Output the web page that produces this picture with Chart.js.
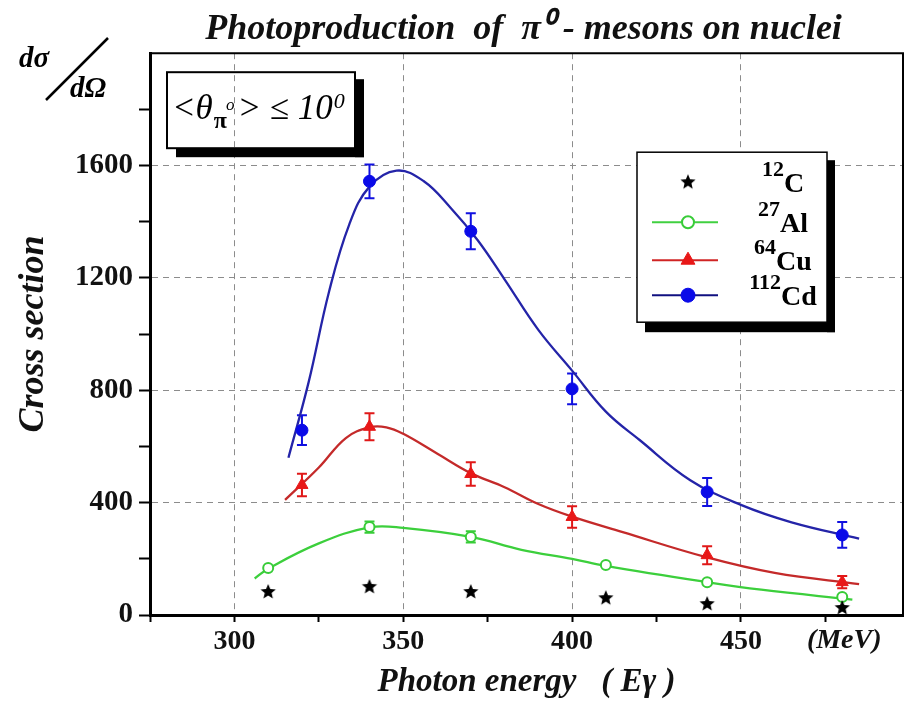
<!DOCTYPE html>
<html>
<head>
<meta charset="utf-8">
<title>Photoproduction of π0-mesons on nuclei</title>
<script src="https://cdn.jsdelivr.net/npm/chart.js@4.4.1/dist/chart.umd.min.js"></script>
<style>
    html, body { margin: 0; padding: 0; background: #fff; }
    #pion { display: block; }
</style>
</head>
<body>
<canvas id="pion" width="905" height="703"></canvas>
<script>
const SERIF = "'Liberation Serif', 'Times New Roman', serif";

// measured points: photon energy (MeV) and cross section
const cEnergy = [310, 340, 370, 410, 440, 480];
const cSigma  = [82, 100, 82, 60, 39, 25];

const alEnergy = [310, 340, 370, 410, 440, 480];
const alSigma  = [167, 313, 278, 178, 117, 64];
const alError  = [0, 20, 20, 0, 0, 0];

const cuEnergy = [320, 340, 370, 400, 440, 480];
const cuSigma  = [463, 670, 502, 349, 213, 117];
const cuError  = [40, 48, 42, 38, 32, 22];

const cdEnergy = [320, 340, 370, 400, 440, 480];
const cdSigma  = [658, 1544, 1366, 805, 438, 285];
const cdError  = [53, 60, 64, 55, 50, 46];

// smooth fitted curves
const alFitEnergy = [306, 310, 325, 340, 350, 370, 385, 400, 410, 440, 456, 483];
const alFitSigma  = [130, 165, 255, 312, 310, 278, 232, 200, 175, 117, 90, 55];

const cuFitEnergy = [315, 325, 333, 340, 345, 350, 360, 370, 380, 390, 400, 415, 440, 460, 485];
const cuFitSigma  = [410, 525, 630, 668, 668, 645, 575, 505, 455, 395, 350, 295, 205, 150, 110];

const cdFitEnergy = [316, 322, 328, 334, 340, 348, 356, 364, 372, 380, 390, 400, 410, 420, 435, 450, 465, 485];
const cdFitSigma  = [560, 830, 1150, 1390, 1525, 1582, 1545, 1450, 1335, 1195, 1015, 870, 724, 623, 480, 392, 330, 272];

// axes
const energyTicks  = [275, 300, 325, 350, 375, 400, 425, 450, 475];
const energyLabels = [300, 350, 400, 450];
const unitTick     = 480;   // "(MeV)" is written under this energy
const sigmaTicks   = [0, 200, 400, 600, 800, 1000, 1200, 1400, 1600, 1800];
const sigmaLabels  = [0, 400, 800, 1200, 1600];

// legend text
const nucleusMass   = ['12', '27', '64', '112'];
const nucleusSymbol = ['C', 'Al', 'Cu', 'Cd'];

window.onload = function() {
    crossSection();
};

function starImage(r) {
    const c = document.createElement('canvas');
    c.width = c.height = 2 * r + 2;
    const g = c.getContext('2d');
    g.translate(r + 1, r + 1);
    g.beginPath();
    for (let i = 0; i < 10; i++) {
        const rad = i % 2 ? r * 0.45 : r;
        const ang = -Math.PI / 2 + i * Math.PI / 5;
        g.lineTo(rad * Math.cos(ang), rad * Math.sin(ang));
    }
    g.closePath();
    g.fillStyle = '#000';
    g.fill();
    return c;
}

// draws a run of text and returns the x where it ends
function piece(ctx, text, x, y, font) {
    ctx.font = font + ' ' + SERIF;
    ctx.fillText(text, x, y);
    return x + ctx.measureText(text).width;
}

// let the plot run right up to the canvas edge (the layout keeps a few px of tick padding)
const fullWidth = {
    id: 'fullWidth',
    afterLayout(chart) {
        const a = chart.chartArea, x = chart.scales.x;
        a.right = chart.width - 2;
        a.width = a.right - a.left;
        x.right = a.right;
        x.width = a.width;
        x.configure();
    }
};

const errorBars = {
    id: 'errorBars',
    beforeDatasetsDraw(chart) {
        const {ctx, scales: {x, y}} = chart;
        chart.data.datasets.forEach(ds => {
            if (!ds.errors) return;
            ctx.save();
            ctx.strokeStyle = ds.barColor;
            ctx.lineWidth = 2;
            ds.data.forEach((p, i) => {
                const e = ds.errors[i];
                if (!e) return;
                const px = x.getPixelForValue(p.x);
                const top = y.getPixelForValue(p.y + e);
                const bot = y.getPixelForValue(p.y - e);
                ctx.beginPath();
                ctx.moveTo(px, top); ctx.lineTo(px, bot);
                ctx.moveTo(px - 5, top); ctx.lineTo(px + 5, top);
                ctx.moveTo(px - 5, bot); ctx.lineTo(px + 5, bot);
                ctx.stroke();
            });
            ctx.restore();
        });
    }
};

// top and right edges of the plot frame
const frame = {
    id: 'frame',
    afterDraw(chart) {
        const {ctx, chartArea: a} = chart;
        ctx.save();
        ctx.strokeStyle = '#000';
        ctx.lineWidth = 2;
        ctx.beginPath();
        ctx.moveTo(a.left, a.top);
        ctx.lineTo(a.right, a.top);
        ctx.lineTo(a.right, a.bottom);
        ctx.stroke();
        ctx.restore();
    }
};

const annotations = {
    id: 'annotations',
    afterDraw(chart) {
        const {ctx, chartArea: a} = chart;
        ctx.save();
        ctx.fillStyle = '#000';
        ctx.strokeStyle = '#000';

        // energy unit at the end of the x axis
        ctx.font = 'bold italic 28px ' + SERIF;
        ctx.textAlign = 'center';
        ctx.textBaseline = 'middle';
        ctx.fillStyle = '#111';
        ctx.fillText('(MeV)', chart.scales.x.getPixelForValue(unitTick) + 2, a.bottom + 26);
        ctx.fillStyle = '#000';

        // dσ / dΩ above the y axis
        ctx.font = 'bold italic 29px ' + SERIF;
        ctx.fillText('dσ', 34, 60);
        ctx.fillText('dΩ', 88, 90);
        ctx.lineWidth = 2.5;
        ctx.beginPath();
        ctx.moveTo(46, 100);
        ctx.lineTo(108, 38);
        ctx.stroke();

        // angular cut box with a drop shadow
        const bx = a.left + 17, by = a.top + 19, bw = 188, bh = 76;
        ctx.fillRect(bx + 9, by + bh, bw, 9);
        ctx.fillRect(bx + bw, by + 7, 9, bh + 2);
        ctx.lineWidth = 2;
        ctx.strokeRect(bx, by, bw, bh);

        ctx.textAlign = 'left';
        ctx.textBaseline = 'alphabetic';
        const base = by + 47;
        let x = bx + 5;
        x = piece(ctx, '<θ', x, base, 'italic 35px');
        const px = x + 1;
        x = piece(ctx, 'π', px, base + 9, 'bold 24px');
        x = piece(ctx, 'o', x - 1, base - 9, 'italic 17px');
        x = piece(ctx, '> ≤ 10', x + 3, base, 'italic 35px');
        piece(ctx, '0', x + 1, base - 11, 'italic 22px');
        ctx.restore();
    }
};

const nucleiLegend = {
    id: 'nucleiLegend',
    afterDraw(chart) {
        const {ctx, chartArea: a} = chart;
        const bx = a.right - 266, by = a.top + 99, bw = 190, bh = 170;
        const rowY = [30, 70, 108, 143];
        ctx.save();
        ctx.fillStyle = '#000';
        ctx.fillRect(bx + 8, by + bh, bw, 10);
        ctx.fillRect(bx + bw, by + 8, 8, bh + 2);
        ctx.fillStyle = '#fff';
        ctx.fillRect(bx, by, bw, bh);
        ctx.strokeStyle = '#000';
        ctx.lineWidth = 1.5;
        ctx.strokeRect(bx, by, bw, bh);

        const rows = chart.data.datasets.filter(d => d.symbol);
        rows.forEach((d, i) => {
            const y = by + rowY[i];
            const mx = bx + 51;
            if (d.legendLine) {
                ctx.strokeStyle = d.legendLine;
                ctx.lineWidth = 2;
                ctx.beginPath();
                ctx.moveTo(bx + 15, y);
                ctx.lineTo(bx + 81, y);
                ctx.stroke();
            }
            ctx.fillStyle = d.backgroundColor;
            ctx.strokeStyle = d.borderColor;
            ctx.lineWidth = d.borderWidth;
            Chart.helpers.drawPoint(ctx, {
                pointStyle: d.pointStyle, radius: d.pointRadius + 1,
                borderWidth: d.borderWidth, rotation: 0
            }, mx, y);

            // mass number raised before the element symbol
            ctx.fillStyle = '#000';
            ctx.textAlign = 'left';
            ctx.textBaseline = 'alphabetic';
            ctx.font = 'bold 22px ' + SERIF;
            const wm = ctx.measureText(d.mass).width;
            ctx.font = 'bold 28px ' + SERIF;
            const ws = ctx.measureText(d.symbol).width;
            let tx = bx + 146 - (wm + ws) / 2;
            tx = piece(ctx, d.mass, tx, y - 6, 'bold 22px');
            piece(ctx, d.symbol, tx, y + 10, 'bold 28px');
        });
        ctx.restore();
    }
};

function crossSection() {
    const ctx = document.getElementById('pion').getContext('2d');
    const points = (xs, ys) => xs.map((x, i) => ({x: x, y: ys[i]}));
    const fit = (xs, ys, color) => ({
        data: points(xs, ys),
        showLine: true,
        borderColor: color,
        borderWidth: 2.3,
        pointRadius: 0,
        tension: 0.4,
        fill: false
    });

    new Chart(ctx, {
        type: 'scatter',
        data: {
            datasets: [
                {
                    data: points(cEnergy, cSigma),
                    pointStyle: starImage(8),
                    pointRadius: 8,
                    backgroundColor: '#000',
                    borderColor: '#000',
                    borderWidth: 0,
                    mass: nucleusMass[0], symbol: nucleusSymbol[0]
                },
                {
                    data: points(alEnergy, alSigma),
                    errors: alError,
                    barColor: '#38cc38',
                    pointStyle: 'circle',
                    pointRadius: 5,
                    backgroundColor: '#fff',
                    borderColor: '#38cc38',
                    borderWidth: 2,
                    legendLine: '#40d040',
                    mass: nucleusMass[1], symbol: nucleusSymbol[1]
                },
                {
                    data: points(cuEnergy, cuSigma),
                    errors: cuError,
                    barColor: '#e01818',
                    pointStyle: 'triangle',
                    pointRadius: 7,
                    backgroundColor: '#e81818',
                    borderColor: '#e81818',
                    borderWidth: 1,
                    legendLine: '#d02424',
                    mass: nucleusMass[2], symbol: nucleusSymbol[2]
                },
                {
                    data: points(cdEnergy, cdSigma),
                    errors: cdError,
                    barColor: '#1010e0',
                    pointStyle: 'circle',
                    pointRadius: 6,
                    backgroundColor: '#0a0ae8',
                    borderColor: '#0a0ae8',
                    borderWidth: 1,
                    legendLine: '#101080',
                    mass: nucleusMass[3], symbol: nucleusSymbol[3]
                },
                fit(alFitEnergy, alFitSigma, '#3ccf3c'),
                fit(cuFitEnergy, cuFitSigma, '#c42a2a'),
                fit(cdFitEnergy, cdFitSigma, '#2424a8')
            ]
        },
        options: {
            responsive: false,
            animation: false,
            events: [],
            layout: { padding: { right: 2 } },
            plugins: {
                legend: { display: false },
                tooltip: { enabled: false },
                title: {
                    display: true,
                    fullSize: false,
                    text: 'Photoproduction  of  π⁰ - mesons on nuclei',
                    color: '#111',
                    font: { family: SERIF, size: 36, style: 'italic', weight: 'bold', lineHeight: 1.2 },
                    padding: { top: 8, bottom: 2 }
                }
            },
            scales: {
                x: {
                    type: 'linear',
                    min: 275,
                    max: 498,
                    afterFit: s => { s.height = 88; },
                    afterBuildTicks: s => {
                        s.ticks = energyTicks.map(v => ({value: v}));
                    },
                    border: { color: '#000', width: 3, dash: [6, 5] },
                    grid: {
                        color: c => (c.tick && energyLabels.includes(c.tick.value)) ? '#8c8c8c' : 'rgba(0,0,0,0)',
                        lineWidth: 1,
                        tickLength: 7,
                        tickWidth: 2,
                        tickColor: '#000'
                    },
                    ticks: {
                        autoSkip: false,
                        maxRotation: 0,
                        padding: 3,
                        color: '#111',
                        font: { family: SERIF, size: 28, weight: 'bold' },
                        callback: v => energyLabels.includes(v) ? String(v) : ''
                    },
                    title: {
                        display: true,
                        text: 'Photon energy   ( Eγ )',
                        color: '#111',
                        font: { family: SERIF, size: 33, style: 'italic', weight: 'bold', lineHeight: 1.2 },
                        padding: { top: 0, bottom: 1 }
                    }
                },
                y: {
                    min: 0,
                    max: 2000,
                    afterFit: s => { s.width = 150; },
                    afterBuildTicks: s => {
                        s.ticks = sigmaTicks.map(v => ({value: v}));
                    },
                    border: { color: '#000', width: 3, dash: [6, 5] },
                    grid: {
                        color: c => (c.tick && c.tick.value > 0 && sigmaLabels.includes(c.tick.value)) ? '#8c8c8c' : 'rgba(0,0,0,0)',
                        lineWidth: 1,
                        tickLength: 11,
                        tickWidth: 2,
                        tickColor: '#000'
                    },
                    ticks: {
                        autoSkip: false,
                        padding: 6,
                        color: '#111',
                        font: { family: SERIF, size: 29, weight: 'bold' },
                        callback: v => sigmaLabels.includes(v) ? String(v) : ''
                    },
                    title: {
                        display: true,
                        text: 'Cross section',
                        color: '#111',
                        font: { family: SERIF, size: 36, style: 'italic', weight: 'bold', lineHeight: 1.2 },
                        padding: { top: 12, bottom: 0 }
                    }
                }
            }
        },
        plugins: [fullWidth, errorBars, frame, annotations, nucleiLegend]
    });
}
</script>
</body>
</html>
